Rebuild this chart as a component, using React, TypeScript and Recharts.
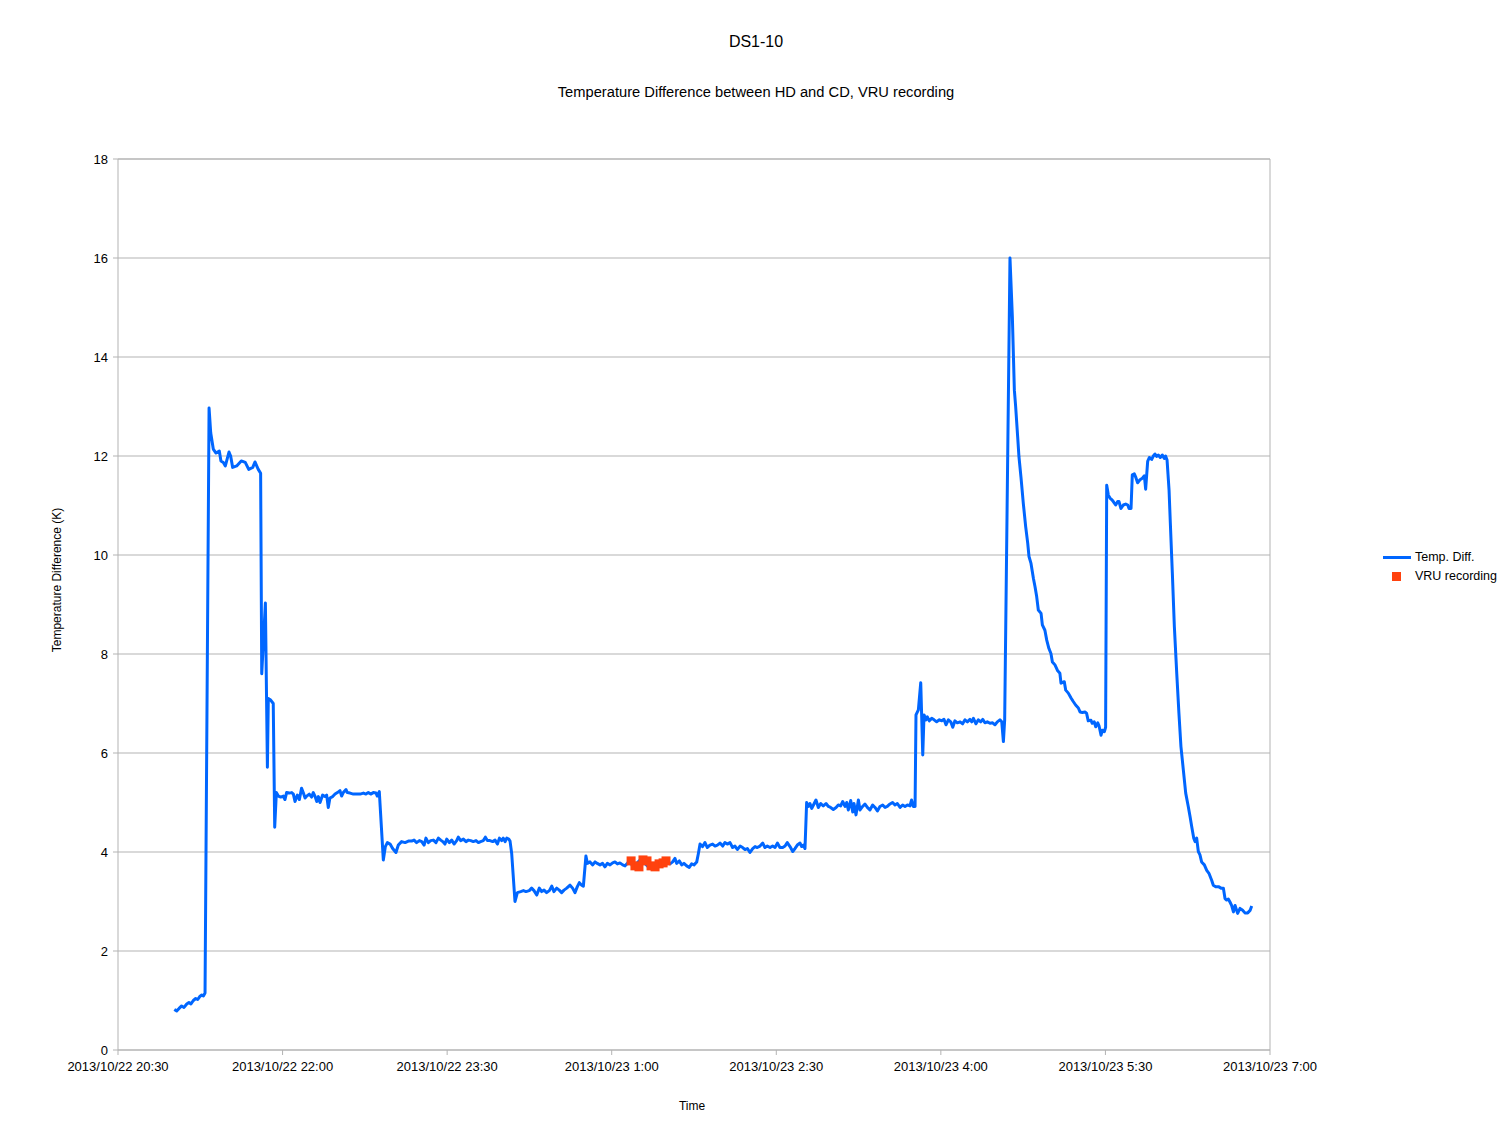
import React from 'react';
import { ComposedChart, Line, Scatter, XAxis, YAxis, ZAxis, CartesianGrid, ReferenceLine } from 'recharts';

// time in minutes after 2013/10/22 20:30, value in K
const preHeat: [number, number][] = [
  [30.8, 0.82], [32.1, 0.79], [33.4, 0.84], [34.8, 0.89], [36.1, 0.86], [37.6, 0.93], [38.8, 0.96], [39.9, 0.93],
  [41.2, 1.0], [42.5, 1.04], [43.6, 1.02], [44.7, 1.08], [45.8, 1.11], [46.7, 1.09], [47.6, 1.15],
];

const firstPeak: [number, number][] = [
  [49.8, 12.97], [50.7, 12.47], [52.1, 12.14], [53.6, 12.06], [55.4, 12.1], [56.3, 11.9], [57.6, 11.87], [58.7, 11.8],
  [60.7, 12.08], [61.6, 12.0], [62.7, 11.77], [64.9, 11.8], [67.4, 11.9], [69.6, 11.87], [71.5, 11.73], [73.7, 11.77],
  [74.9, 11.88], [76.7, 11.73], [78.0, 11.65], [78.6, 7.6], [80.6, 9.03], [81.7, 5.71], [82.2, 7.1], [83.5, 7.07],
  [84.9, 7.0], [85.7, 4.5],
];

const plateau52: [number, number][] = [
  [86.6, 5.2], [87.7, 5.13], [89.0, 5.11], [90.4, 5.13], [91.3, 5.06], [92.2, 5.2], [93.7, 5.19], [95.0, 5.2],
  [95.9, 5.17], [96.8, 5.02], [98.1, 5.15], [99.2, 5.06], [100.4, 5.29], [101.4, 5.19], [102.3, 5.09], [103.2, 5.13],
  [104.6, 5.17], [105.9, 5.11], [106.8, 5.2], [107.7, 5.13], [108.7, 5.02], [109.6, 5.12], [110.5, 5.0], [111.9, 5.15],
  [113.2, 5.12], [114.1, 5.15], [115.0, 4.9], [115.9, 5.09], [117.4, 5.12], [118.7, 5.17], [120.0, 5.2], [121.4, 5.24],
  [122.3, 5.13], [123.2, 5.2], [124.7, 5.26], [125.4, 5.2], [126.9, 5.19], [128.7, 5.17], [130.5, 5.17], [132.4, 5.17],
  [134.2, 5.19], [135.6, 5.17], [136.9, 5.2], [138.2, 5.17], [139.6, 5.2], [141.1, 5.19], [141.8, 5.13], [142.9, 5.22],
];

const plateau42: [number, number][] = [
  [145.1, 3.84], [146.2, 4.11], [147.3, 4.19], [148.8, 4.16], [150.2, 4.07], [152.0, 3.99], [153.3, 4.14], [155.1, 4.21],
  [157.0, 4.19], [158.8, 4.22], [160.6, 4.22], [161.9, 4.24], [163.3, 4.19], [164.8, 4.23], [166.1, 4.21], [167.4, 4.14],
  [168.4, 4.28], [169.7, 4.19], [171.0, 4.23], [172.5, 4.24], [173.9, 4.19], [175.2, 4.28], [176.5, 4.24], [177.6, 4.21],
  [178.8, 4.16], [179.8, 4.26], [181.2, 4.19], [182.5, 4.24], [183.8, 4.16], [185.2, 4.23], [186.1, 4.3], [187.4, 4.23],
  [188.9, 4.26], [190.3, 4.21], [191.6, 4.24], [192.9, 4.23], [194.3, 4.21], [195.8, 4.23], [197.1, 4.19], [198.3, 4.21],
  [199.8, 4.23], [200.9, 4.3], [202.0, 4.23], [203.4, 4.23], [204.9, 4.21], [206.2, 4.24], [207.5, 4.16], [208.6, 4.28],
  [209.8, 4.23], [210.7, 4.28], [211.7, 4.21], [212.6, 4.28], [213.7, 4.26], [214.4, 4.22], [215.3, 3.97],
];

const plateau32: [number, number][] = [
  [217.1, 3.0], [218.4, 3.18], [220.2, 3.2], [221.7, 3.22], [223.1, 3.2], [224.9, 3.22], [226.2, 3.27], [227.5, 3.22],
  [229.0, 3.13], [230.4, 3.27], [231.7, 3.2], [233.0, 3.23], [234.4, 3.18], [235.9, 3.22], [237.2, 3.31], [238.4, 3.2],
  [239.9, 3.27], [241.3, 3.23], [242.6, 3.18], [243.9, 3.23], [245.4, 3.27], [247.2, 3.33], [248.6, 3.27], [249.9, 3.18],
  [251.2, 3.3], [252.3, 3.38], [253.6, 3.33], [254.5, 3.31], [255.9, 3.92],
];

const plateau38: [number, number][] = [
  [256.7, 3.77], [258.1, 3.8], [259.6, 3.74], [260.9, 3.8], [262.1, 3.77], [263.6, 3.74], [265.0, 3.77], [266.3, 3.7],
  [267.6, 3.77], [269.1, 3.74], [270.5, 3.78], [271.8, 3.8], [273.1, 3.76], [274.5, 3.78], [276.0, 3.74], [277.3, 3.72],
  [278.5, 3.77], [280.0, 3.84], [281.5, 3.7], [282.7, 3.74], [284.0, 3.78], [285.5, 3.84], [286.9, 3.8], [288.2, 3.77],
  [289.5, 3.72], [290.9, 3.76], [292.4, 3.72], [293.7, 3.77], [294.9, 3.76], [296.4, 3.78], [297.9, 3.8], [299.1, 3.84],
  [300.4, 3.77], [301.9, 3.76], [303.3, 3.8], [304.6, 3.87], [305.5, 3.77], [307.0, 3.82], [308.3, 3.74], [309.5, 3.77],
  [311.0, 3.72], [312.4, 3.69], [313.7, 3.76], [315.0, 3.74], [316.5, 3.8], [317.4, 3.97],
];

const plateau41: [number, number][] = [
  [318.3, 4.16], [319.7, 4.11], [321.0, 4.19], [322.3, 4.09], [323.7, 4.14], [325.2, 4.16], [326.5, 4.12], [327.8, 4.14],
  [329.2, 4.18], [330.7, 4.12], [331.9, 4.19], [333.2, 4.16], [334.7, 4.19], [336.1, 4.09], [337.4, 4.12], [338.7, 4.05],
  [340.2, 4.12], [341.6, 4.09], [342.9, 4.05], [344.2, 4.07], [345.6, 3.99], [347.1, 4.07], [348.4, 4.11], [349.6, 4.09],
  [351.1, 4.12], [352.6, 4.18], [353.8, 4.09], [355.1, 4.12], [356.6, 4.09], [358.0, 4.12], [359.3, 4.09], [360.6, 4.18],
  [362.0, 4.09], [363.5, 4.09], [364.8, 4.12], [366.0, 4.19], [367.5, 4.11], [369.0, 4.01], [370.2, 4.07], [371.5, 4.14],
  [373.0, 4.18], [373.9, 4.11], [374.8, 4.14], [375.7, 4.07],
];

const plateau49: [number, number][] = [
  [376.6, 5.0], [377.5, 4.92], [378.4, 4.98], [379.4, 4.88], [380.6, 4.97], [381.7, 5.05], [383.0, 4.9], [384.3, 4.98],
  [385.7, 4.93], [387.2, 4.98], [388.5, 4.92], [389.7, 4.9], [391.2, 4.86], [392.7, 4.9], [393.9, 4.95], [395.2, 4.93],
  [396.3, 5.02], [397.6, 4.92], [398.5, 5.0], [399.4, 4.85], [400.7, 5.04], [401.8, 4.81], [402.5, 4.98], [403.6, 4.75],
  [404.9, 5.05], [405.8, 4.85], [407.2, 4.92], [408.5, 4.97], [409.8, 4.9], [411.2, 4.85], [412.7, 4.95], [414.0, 4.9],
  [415.3, 4.83], [416.7, 4.92], [418.2, 4.95], [419.5, 4.9], [420.7, 4.92], [422.2, 4.97], [423.6, 5.0], [424.9, 4.95],
  [426.2, 4.98], [427.7, 4.9], [429.1, 4.95], [430.4, 4.92], [431.7, 4.95], [433.1, 4.93], [434.0, 5.05], [434.9, 4.92],
  [435.9, 4.92],
];

const plateau66: [number, number][] = [
  [436.4, 6.77], [437.7, 6.87], [439.0, 7.42], [440.1, 5.96], [440.8, 6.77], [441.9, 6.67], [442.6, 6.73], [443.7, 6.65],
  [445.0, 6.7], [446.3, 6.67], [447.7, 6.63], [449.2, 6.67], [450.5, 6.65], [451.7, 6.68], [452.8, 6.57], [454.1, 6.67],
  [455.4, 6.63], [456.5, 6.52], [457.7, 6.65], [459.0, 6.61], [460.5, 6.63], [461.9, 6.59], [463.2, 6.67], [464.5, 6.63],
  [465.9, 6.68], [466.9, 6.63], [467.8, 6.7], [469.2, 6.59], [470.5, 6.67], [471.8, 6.63], [472.9, 6.68], [474.1, 6.61],
  [475.4, 6.63], [476.9, 6.6], [478.3, 6.61], [479.6, 6.57], [480.9, 6.63], [482.3, 6.67], [483.3, 6.63], [484.2, 6.23],
  [484.9, 6.67],
];

const secondPeak: [number, number][] = [
  [487.8, 16.0], [489.1, 14.81], [490.2, 13.33], [490.9, 13.0], [492.0, 12.39], [492.7, 11.99], [493.8, 11.58],
  [495.1, 11.04], [496.4, 10.57], [497.5, 10.24], [498.2, 9.97], [499.3, 9.83], [500.6, 9.53], [501.5, 9.36], [502.4, 9.16],
  [503.3, 8.89], [504.8, 8.82], [505.5, 8.59], [506.9, 8.48], [507.9, 8.28], [509.1, 8.11], [510.2, 8.01], [511.0, 7.84],
  [512.4, 7.78], [513.9, 7.66], [515.1, 7.61], [515.7, 7.41], [517.5, 7.44], [518.3, 7.27], [519.7, 7.21], [521.2, 7.11],
  [522.4, 7.04], [523.7, 6.97], [525.2, 6.91], [526.1, 6.83], [527.4, 6.82], [528.8, 6.83], [529.7, 6.8], [530.6, 6.65],
  [532.1, 6.66], [532.8, 6.6], [533.9, 6.63], [534.7, 6.53], [535.8, 6.61], [536.5, 6.55], [537.6, 6.36], [538.3, 6.46],
  [539.4, 6.43], [540.1, 6.52],
];

const thirdPlateau: [number, number][] = [
  [540.7, 11.41], [541.6, 11.21], [542.5, 11.15], [543.4, 11.12], [544.3, 11.08], [545.6, 11.01], [546.7, 11.08],
  [547.4, 11.08], [548.5, 10.94], [549.8, 11.01], [551.1, 11.03], [552.2, 11.01], [552.9, 10.94], [554.0, 10.94],
  [554.7, 11.62], [555.8, 11.64], [556.5, 11.58], [557.6, 11.46], [558.9, 11.52], [560.2, 11.55], [561.3, 11.6],
  [562.0, 11.33], [563.1, 11.89], [564.0, 11.97], [565.3, 11.93], [566.2, 12.0], [567.1, 12.04], [568.0, 11.99],
  [568.9, 12.02], [570.0, 11.97], [571.1, 12.02], [572.2, 11.95], [572.9, 12.0], [573.7, 11.92],
];

const finalDecay: [number, number][] = [
  [574.8, 11.31], [575.5, 10.64], [576.6, 9.63], [577.7, 8.55], [579.0, 7.61], [580.2, 6.8], [581.3, 6.13], [582.6, 5.66],
  [583.9, 5.19], [585.3, 4.92], [586.3, 4.71], [587.2, 4.51], [588.3, 4.28], [589.0, 4.21], [589.9, 4.28], [590.8, 4.01],
  [591.7, 3.94], [592.6, 3.8], [594.1, 3.74], [595.4, 3.63], [596.6, 3.57], [598.1, 3.43], [599.0, 3.33], [600.3, 3.3],
  [601.8, 3.3], [603.2, 3.27], [604.5, 3.27], [605.4, 3.06], [606.3, 3.03], [607.2, 3.05], [608.1, 2.99], [609.0, 2.92],
  [610.0, 2.79], [610.9, 2.92], [612.3, 2.76], [613.6, 2.86], [614.9, 2.83], [616.3, 2.77], [617.8, 2.77], [619.1, 2.82],
  [620.0, 2.91],
];

const vruRecording: [number, number][] = [
  [280.6, 3.82], [282.7, 3.72], [284.9, 3.7], [287.1, 3.84], [289.3, 3.82], [291.5, 3.72], [293.7, 3.7], [295.9, 3.76],
  [298.1, 3.78], [299.7, 3.82],
];

const xTickMinutes = [0, 90, 180, 270, 360, 450, 540, 630];
const xTickLabels = [
  '2013/10/22 20:30', '2013/10/22 22:00', '2013/10/22 23:30', '2013/10/23 1:00',
  '2013/10/23 2:30', '2013/10/23 4:00', '2013/10/23 5:30', '2013/10/23 7:00',
];
const yTicks = [0, 2, 4, 6, 8, 10, 12, 14, 16, 18];

const tempDiff = [
  ...preHeat, ...firstPeak, ...plateau52, ...plateau42, ...plateau32, ...plateau38,
  ...plateau41, ...plateau49, ...plateau66, ...secondPeak, ...thirdPlateau, ...finalDecay,
].map(([t, v]) => ({ t, v }));
const vruData = vruRecording.map(([t, v]) => ({ t, v }));

const FONT = '"Liberation Sans", Arial, sans-serif';
const BLUE = '#0066ff';
const ORANGE = '#ff420e';
const GRID = '#b3b3b3';

export default function App() {
  return (
    <div style={{ position: 'absolute', left: 0, top: 0, width: 1512, height: 1134, background: '#fff', fontFamily: FONT }}>
      <div style={{ position: 'absolute', left: 0, width: 1512, top: 32, textAlign: 'center', fontSize: 16, lineHeight: '20px', color: '#000' }}>
        DS1-10
      </div>
      <div style={{ position: 'absolute', left: 0, width: 1512, top: 83, textAlign: 'center', fontSize: 14.7, lineHeight: '18px', color: '#000' }}>
        Temperature Difference between HD and CD, VRU recording
      </div>
      <ComposedChart
        width={1512}
        height={1134}
        margin={{ top: 159, right: 242, bottom: 54, left: 58 }}
        style={{ fontFamily: FONT }}
      >
        <CartesianGrid vertical={false} stroke={GRID} strokeWidth={1} />
        <XAxis
          dataKey="t"
          type="number"
          domain={[0, 630]}
          ticks={xTickMinutes}
          allowDataOverflow
          height={30}
          tickSize={5}
          tickMargin={7}
          stroke={GRID}
          tick={{ fontSize: 13, fill: '#000', fontFamily: FONT }}
          tickFormatter={(v: number) => xTickLabels[xTickMinutes.indexOf(v)] ?? ''}
          interval={0}
        />
        <YAxis
          type="number"
          domain={[0, 18]}
          ticks={yTicks}
          width={60}
          tickSize={5}
          tickMargin={5}
          stroke={GRID}
          tick={{ fontSize: 13, fill: '#000', fontFamily: FONT }}
          interval={0}
        />
        <ZAxis range={[81, 81]} />
        <ReferenceLine x={630} stroke={GRID} />
        <ReferenceLine y={18} stroke={GRID} />
        <Scatter
          name="VRU recording"
          data={vruData}
          dataKey="v"
          fill={ORANGE}
          shape="square"
          isAnimationActive={false}
        />
        <Line
          name="Temp. Diff."
          data={tempDiff}
          dataKey="v"
          type="linear"
          stroke={BLUE}
          strokeWidth={3}
          strokeLinejoin="round"
          dot={false}
          activeDot={false}
          isAnimationActive={false}
        />
      </ComposedChart>
      <div style={{ position: 'absolute', left: 57 - 100, top: 580 - 8, width: 200, height: 16, textAlign: 'center', fontSize: 12, lineHeight: '16px', color: '#000', transform: 'rotate(-90deg)' }}>
        Temperature Difference (K)
      </div>
      <div style={{ position: 'absolute', left: 592, top: 1098, width: 200, textAlign: 'center', fontSize: 12, lineHeight: '16px', color: '#000' }}>
        Time
      </div>
      <div style={{ position: 'absolute', left: 1383, top: 549, width: 140, height: 16 }}>
        <div style={{ position: 'absolute', left: 0, top: 6.5, width: 28, height: 3, background: BLUE }} />
        <div style={{ position: 'absolute', left: 32, top: 0, fontSize: 12.5, lineHeight: '16px', color: '#000', whiteSpace: 'nowrap' }}>Temp. Diff.</div>
      </div>
      <div style={{ position: 'absolute', left: 1383, top: 568, width: 140, height: 16 }}>
        <div style={{ position: 'absolute', left: 9, top: 4, width: 9, height: 9, background: ORANGE }} />
        <div style={{ position: 'absolute', left: 32, top: 0, fontSize: 12.5, lineHeight: '16px', color: '#000', whiteSpace: 'nowrap' }}>VRU recording</div>
      </div>
    </div>
  );
}
